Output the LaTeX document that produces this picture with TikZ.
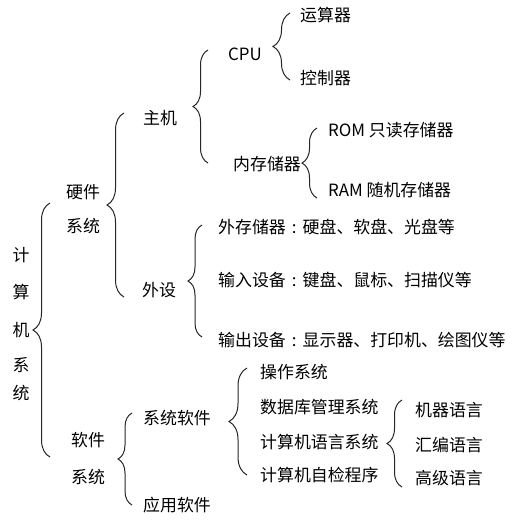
\documentclass[tikz,border=0pt]{standalone}
\usepackage{fontspec}
\newfontfamily\cjk{Noto Sans CJK SC}
\usetikzlibrary{decorations.pathreplacing}
\newcommand{\fcolon}{\makebox[1em][c]{:}}
\tikzset{
  lbl/.style={anchor=west, inner sep=0pt},
  mid/.style={inner sep=0pt},
  brc/.style={decorate, line width=1pt, black!85}
}
\begin{document}
\begin{tikzpicture}[x=1pt, y=-1pt, font=\cjk\fontsize{16.9}{18}\selectfont]
  \useasboundingbox (0,0) rectangle (514,523);
  % vertical title
  \foreach \c/\y [count=\k] in {计/255,算/292,机/330,系/365,统/393}
    \node[mid] (root\k) at (21,\y) {\c};
  % first level
  \node[mid] (hw1) at (83,192) {硬件};
  \node[mid] (hw2) at (83,226) {系统};
  \node[mid] (sw1) at (88,440) {软件};
  \node[mid] (sw2) at (88,477) {系统};
  % hardware
  \node[lbl] (host) at (143,118) {主机};
  \node[lbl] (peri) at (142,290) {外设};
  \node[lbl] (cpu)  at (228,54)  {CPU};
  \node[lbl] (mem)  at (233,164) {内存储器};
  \node[lbl] (alu)  at (300,15)  {运算器};
  \node[lbl] (ctrl) at (300,78)  {控制器};
  \node[lbl] (rom)  at (328,130) {ROM 只读存储器};
  \node[lbl] (ram)  at (328,190) {RAM 随机存储器};
  \node[lbl] (ext)  at (218,227) {外存储器\fcolon 硬盘、软盘、光盘等};
  \node[lbl] (inp)  at (218,280) {输入设备\fcolon 键盘、鼠标、扫描仪等};
  \node[lbl] (outp) at (218,340) {输出设备\fcolon 显示器、打印机、绘图仪等};
  % software
  \node[lbl] (syssw) at (143,418) {系统软件};
  \node[lbl] (appsw) at (143,505) {应用软件};
  \node[lbl] (os)    at (260,372) {操作系统};
  \node[lbl] (dbms)  at (260,407) {数据库管理系统};
  \node[lbl] (lang)  at (260,442) {计算机语言系统};
  \node[lbl] (check) at (260,475) {计算机自检程序};
  \node[lbl] (mach)  at (415,410) {机器语言};
  \node[lbl] (asm)   at (415,445) {汇编语言};
  \node[lbl] (high)  at (415,478) {高级语言};
  % braces: x / top / bottom / amplitude
  \foreach \bx/\btop/\bbot/\amp in {50/203/457/17, 124/113/297/17,
      208/50/163/15, 290/13/80/17, 317/128/198/15, 202/225/337/14,
      132/413/505/14, 247/368/475/18, 402/400/487/15}
    \draw[brc, decoration={brace, amplitude=\amp pt}] (\bx,\bbot) -- (\bx,\btop);
\end{tikzpicture}
\end{document}
